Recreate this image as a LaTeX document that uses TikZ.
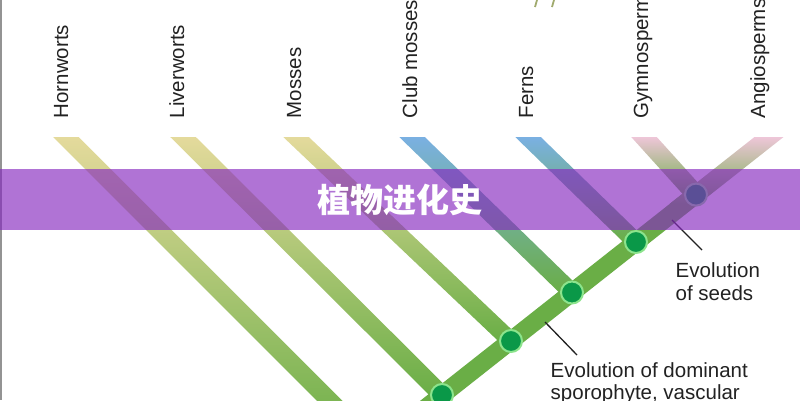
\documentclass[tikz,border=0pt]{standalone}
\usepackage{fontspec}
\setmainfont{Liberation Sans}
\newfontfamily\cjk{Noto Sans CJK SC}
\usetikzlibrary{calc}
\definecolor{trunkgreen}{RGB}{106,174,70}
\definecolor{yel}{RGB}{228,218,156}
\definecolor{blu}{RGB}{122,176,226}
\definecolor{pnk}{RGB}{238,198,216}
\definecolor{nodegreen}{RGB}{10,152,72}
\definecolor{noderim}{RGB}{140,228,140}
\definecolor{band}{RGB}{134,40,192}
\definecolor{labelgray}{RGB}{34,34,34}
\definecolor{markolive}{RGB}{160,170,110}
\newcommand\branchband[4]{%
  \shade[top color=#3, bottom color=#4]
    (#1-12.75,137) -- (#1+12.75,137) -- ($(#2)+(12.75,0)$) -- ($(#2)+(-12.75,0)$) -- cycle;}
\begin{document}
\begin{tikzpicture}[x=1pt,y=-1pt,
  taxon/.style={font=\fontsize{20.5}{24}\selectfont, text=labelgray, rotate=90, anchor=base west, inner sep=0pt},
  note/.style={font=\fontsize{20.5}{23}\selectfont, text=labelgray, anchor=base west, inner sep=0pt},
  junction/.style={circle, fill=nodegreen, draw=noderim, line width=2pt, minimum size=22pt, inner sep=0pt},
  pointer/.style={draw=labelgray, line width=1.3pt}
]
\useasboundingbox (0,0) rectangle (800,400);
\fill[white] (0,0) rectangle (800,400);

% junction positions
\coordinate (c1) at (442,395);
\coordinate (c2) at (511,341);
\coordinate (c3) at (572,292.5);
\coordinate (c4) at (636,242);
\coordinate (c5) at (696,194.6);
\coordinate (hend) at (376,447);
\coordinate (trunkstart) at (347,470);
\coordinate (angstart) at (684,204);

% taxon branches
\branchband{66}{hend}{yel}{trunkgreen}
\branchband{183}{c1}{yel}{trunkgreen}
\branchband{296}{c2}{yel}{trunkgreen}
\branchband{412}{c3}{blu}{trunkgreen}
\branchband{528}{c4}{blu}{trunkgreen}
\branchband{644}{c5}{pnk}{trunkgreen}

% trunk
\draw[trunkgreen, line width=18pt] (trunkstart) -- (c5);
\shade[top color=pnk, bottom color=trunkgreen]
  (769-14.5,137) -- (769+14.5,137) -- ($(angstart)+(14.5,0)$) -- ($(angstart)+(-14.5,0)$) -- cycle;

% junction nodes
\node[junction] (n1) at (c1) {};
\node[junction] (n2) at (c2) {};
\node[junction] (n3) at (c3) {};
\node[junction] (n4) at (c4) {};
\node[junction] (n5) at (c5) {};

% taxon labels
\node[taxon] (hornworts) at (68,118.5) {Hornworts};
\node[taxon] (liverworts) at (184,118.5) {Liverworts};
\node[taxon] (mosses) at (301,118.5) {Mosses};
\node[taxon] (clubmosses) at (417,118.5) {Club mosses};
\node[taxon] (ferns) at (533,118.5) {Ferns};
\node[taxon] (gymnosperms) at (648,118.5) {Gymnosperms};
\node[taxon] (angiosperms) at (765,118.5) {Angiosperms};

% annotations
\node[note] (seedsA) at (675.5,277) {Evolution};
\node[note] (seedsB) at (675.5,300) {of seeds};
\node[note] (domA) at (550.5,377) {Evolution of dominant};
\node[note] (domB) at (550.5,399) {sporophyte, vascular};
\coordinate (ps1) at (672,220);
\coordinate (ps2) at (702,250);
\coordinate (pd1) at (545,322);
\coordinate (pd2) at (577,355);
\draw[pointer] (ps1) -- (ps2);
\draw[pointer] (pd1) -- (pd2);

% left border and top marks
\draw[gray!85, line width=1.5pt] (0.75,0) -- (0.75,400);
\coordinate (m1a) at (537,0); \coordinate (m1b) at (535,7);
\coordinate (m2a) at (554,0); \coordinate (m2b) at (552,7);
\draw[markolive, line width=1.8pt] (m1a) -- (m1b);
\draw[markolive, line width=1.8pt] (m2a) -- (m2b);

% banner overlay
\fill[band, opacity=0.65] (0,169) rectangle (800,230);
\node[font=\cjk\bfseries\fontsize{33}{33}\selectfont, text=white, inner sep=0pt] (title) at (400,200) {植物进化史};
\end{tikzpicture}
\end{document}
